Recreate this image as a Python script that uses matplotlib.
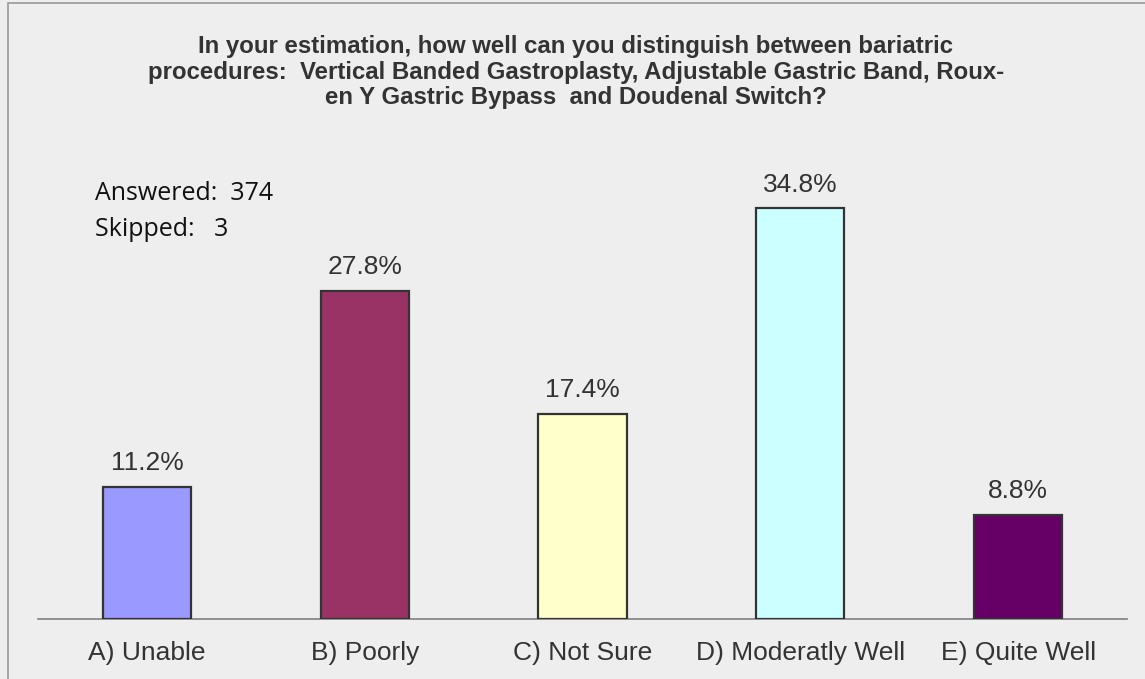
import matplotlib.pyplot as plt
from matplotlib.patches import Rectangle

# chart data
categories = ["A) Unable", "B) Poorly", "C) Not Sure", "D) Moderatly Well", "E) Quite Well"]
percents = [11.2, 27.8, 17.4, 34.8, 8.8]
bar_colors = ["#9999FF", "#993366", "#FFFFCC", "#CCFFFF", "#660066"]
title = ("In your estimation, how well can you distinguish between bariatric\n"
         "procedures:  Vertical Banded Gastroplasty, Adjustable Gastric Band, Roux-\n"
         "en Y Gastric Bypass  and Doudenal Switch?")
answered = 374
skipped = 3

fig = plt.figure(figsize=(11.45, 6.79), dpi=100, facecolor="#EEEEEE")
fig.patches.append(Rectangle((8 / 1145, -0.1), 1.2, 1.1 - 3 / 679,
                             transform=fig.transFigure, fill=False,
                             edgecolor="#999999", linewidth=1.2))

ax = fig.add_axes([38 / 1145, 60 / 679, 1089 / 1145, 472 / 679])
ax.set_facecolor("#EEEEEE")

x = range(len(categories))
ax.bar(x, percents, width=0.405, color=bar_colors, edgecolor="#333333", linewidth=1.6, zorder=3)
for xi, v in zip(x, percents):
    ax.text(xi, v + 1.0, f"{v:.1f}%", ha="center", va="bottom",
            fontsize=19, color="#333333", family="Liberation Sans")

ax.set_xlim(-0.5, len(categories) - 0.5)
ax.set_ylim(0, 40)
ax.set_yticks([])
ax.set_xticks(list(x))
ax.set_xticklabels(categories, fontsize=19, color="#333333", family="Liberation Sans")
ax.tick_params(axis="x", length=0, pad=16)
for s in ["top", "right", "left"]:
    ax.spines[s].set_visible(False)
ax.spines["bottom"].set_color("#808080")
ax.spines["bottom"].set_linewidth(1.2)

fig.text(0.503, 1 - 72 / 679, title, ha="center", va="center", fontsize=17.3,
         fontweight="bold", color="#333333", family="Liberation Sans", linespacing=1.15)

fig.text(95 / 1145, 1 - 194 / 679, f"Answered:  {answered}", ha="left", va="center",
         fontsize=18, color="#111111", family="Open Sans")
fig.text(95 / 1145, 1 - 230 / 679, f"Skipped:   {skipped}", ha="left", va="center",
         fontsize=18, color="#111111", family="Open Sans")

fig.savefig("out.png", dpi=100, facecolor=fig.get_facecolor())
